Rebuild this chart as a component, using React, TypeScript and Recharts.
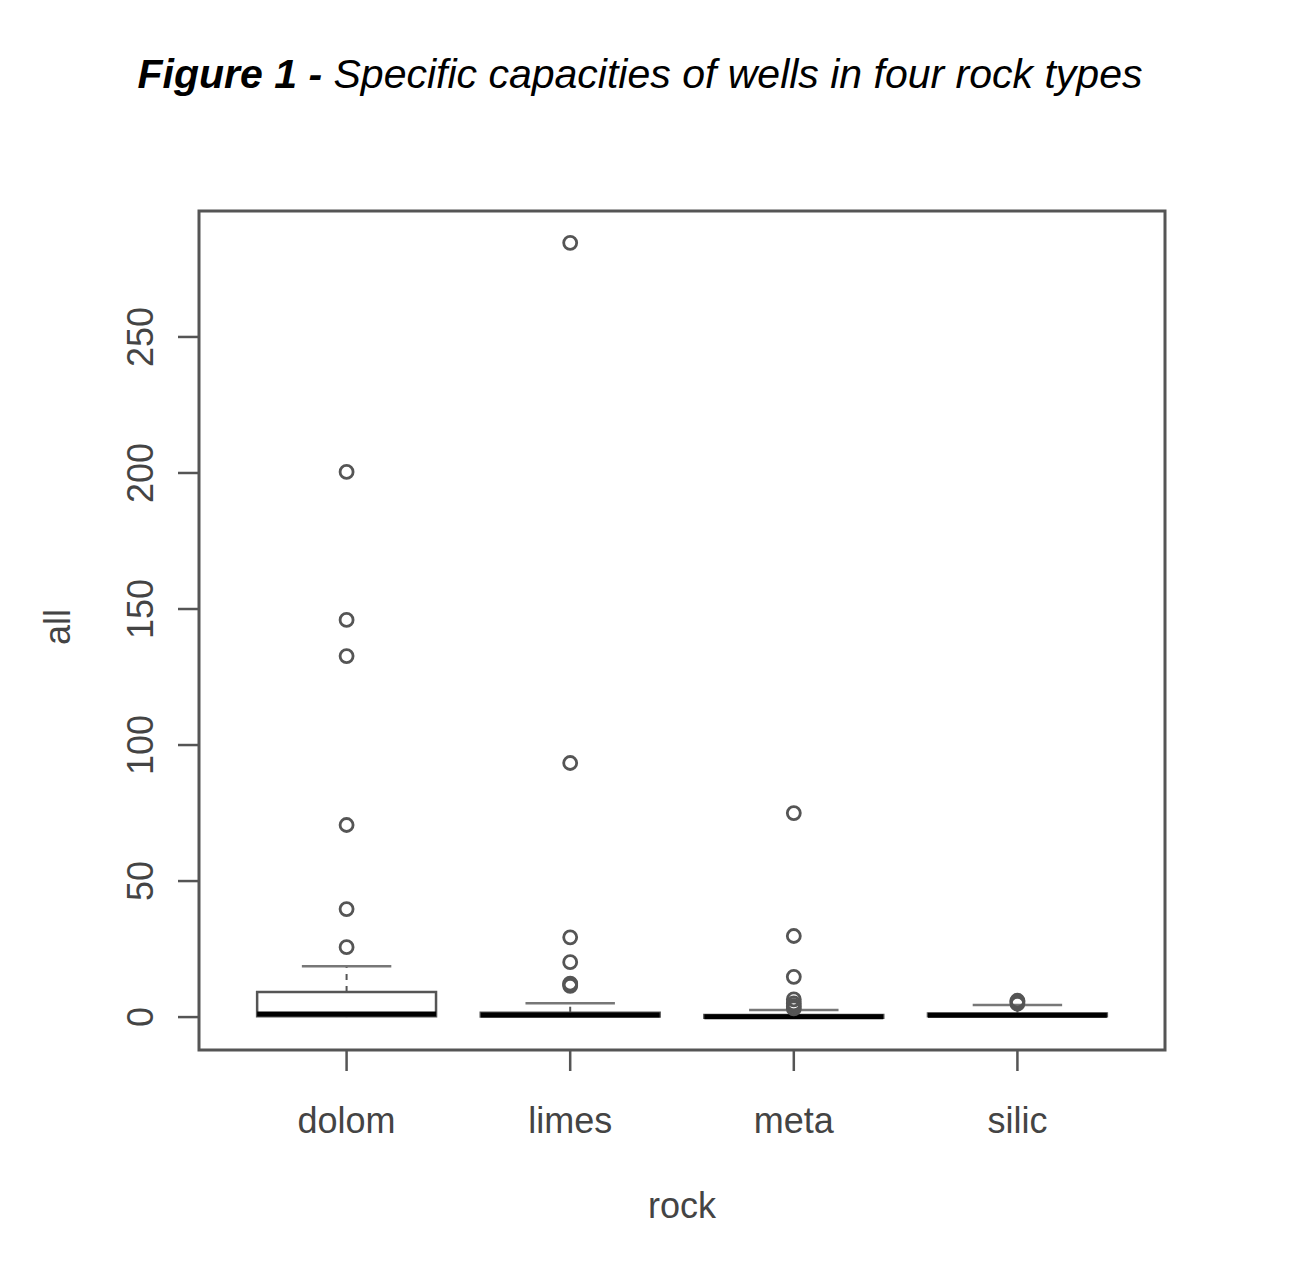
import React from 'react';
import {
  ComposedChart, XAxis, YAxis, Scatter, ReferenceArea, ReferenceLine,
} from 'recharts';

// Box statistics (specific capacity, "all")
const categories = ['dolom', 'limes', 'meta', 'silic'];
const whiskerLow = [0, 0, 0, 0];
const q1 = [0.3, 0.2, -0.2, 0.3];
const median = [1.1, 0.8, 0.1, 0.7];
const q3 = [9.2, 1.6, 0.8, 1.3];
const whiskerHigh = [18.7, 5.1, 2.6, 4.4];
const outliers = [
  [25.7, 39.7, 70.6, 132.7, 146, 200.4],
  [11.5, 12, 12.3, 20.2, 29.3, 93.4, 284.6],
  [3.2, 4, 5, 6.5, 14.8, 29.8, 75],
  [4.9, 5.6, 6.0],
];
const yTicks = [0, 50, 100, 150, 200, 250];

const X_DOMAIN: [number, number] = [0.34, 4.66];
const Y_DOMAIN: [number, number] = [-12.1, 296.3];
const BOX_HALF = 0.4;
const CAP_HALF = 0.2;
const GRAY = '#555';
const FONT = '"Liberation Sans", Arial, sans-serif';

const points = outliers.flatMap((vals, i) => vals.map((v) => ({ x: i + 1, y: v })));

const OpenCircle = (props: any) => {
  const { cx, cy } = props;
  if (cx == null || cy == null) return null;
  return <circle cx={cx} cy={cy} r={6.5} fill="none" stroke={GRAY} strokeWidth={2.8} />;
};

const YTick = (props: any) => {
  const { x, y, payload } = props;
  const bx = x - 23;
  return (
    <text x={bx} y={y} transform={`rotate(-90, ${bx}, ${y})`} textAnchor="middle"
      fill="#444" fontSize={36} fontFamily={FONT}>
      {payload.value}
    </text>
  );
};

const XTick = (props: any) => {
  const { x, y, payload } = props;
  return (
    <text x={x} y={y + 60} textAnchor="middle" fill="#444" fontSize={36} fontFamily={FONT}>
      {categories[payload.value - 1]}
    </text>
  );
};

export default function App() {
  return (
    <div style={{ position: 'absolute', left: 0, top: 0, width: 1312, height: 1284, background: '#fff' }}>
      <div style={{
        position: 'absolute', left: 0, top: 50, width: 1280, textAlign: 'center',
        fontFamily: FONT, fontSize: 41, fontStyle: 'italic', color: '#000', lineHeight: '48px',
      }}>
        <b>Figure 1 -</b> Specific capacities of wells in four rock types
      </div>
      <ComposedChart width={1312} height={1284} margin={{ top: 211, right: 147, bottom: 134, left: 119 }}>
        <XAxis type="number" dataKey="x" domain={X_DOMAIN} ticks={[1, 2, 3, 4]} allowDataOverflow
          axisLine={false} tickSize={21} tickLine={{ stroke: GRAY, strokeWidth: 2.5 }} height={100}
          tick={<XTick />} interval={0} />
        <YAxis type="number" dataKey="y" domain={Y_DOMAIN} ticks={yTicks} allowDataOverflow
          axisLine={false} tickSize={21} tickLine={{ stroke: GRAY, strokeWidth: 2.5 }} width={80}
          tick={<YTick />} interval={0} />
        <ReferenceArea x1={X_DOMAIN[0]} x2={X_DOMAIN[1]} y1={Y_DOMAIN[0]} y2={Y_DOMAIN[1]}
          fill="none" fillOpacity={0} stroke={GRAY} strokeWidth={3} ifOverflow="visible" />
        {categories.map((c, i) => {
          const cx = i + 1;
          return (
            <React.Fragment key={c}>
              <ReferenceLine segment={[{ x: cx, y: q3[i] }, { x: cx, y: whiskerHigh[i] }]}
                stroke={GRAY} strokeWidth={2} strokeDasharray="6 6" ifOverflow="visible" />
              <ReferenceLine segment={[{ x: cx, y: whiskerLow[i] }, { x: cx, y: q1[i] }]}
                stroke={GRAY} strokeWidth={2} strokeDasharray="6 6" ifOverflow="visible" />
              <ReferenceLine segment={[{ x: cx - CAP_HALF, y: whiskerHigh[i] }, { x: cx + CAP_HALF, y: whiskerHigh[i] }]}
                stroke="#777" strokeWidth={2.5} ifOverflow="visible" />
              <ReferenceArea x1={cx - BOX_HALF} x2={cx + BOX_HALF} y1={q1[i]} y2={q3[i]}
                fill="#fff" fillOpacity={1} stroke={GRAY} strokeWidth={2.5} ifOverflow="visible" />
              <ReferenceLine segment={[{ x: cx - BOX_HALF, y: median[i] }, { x: cx + BOX_HALF, y: median[i] }]}
                stroke="#000" strokeWidth={5} ifOverflow="visible" />
            </React.Fragment>
          );
        })}
        <Scatter data={points} dataKey="y" shape={<OpenCircle />} isAnimationActive={false} />
      </ComposedChart>
      <svg width={1312} height={1284} style={{ position: 'absolute', left: 0, top: 0, pointerEvents: 'none' }}>
        <text x={70} y={627} transform="rotate(-90, 70, 627)" textAnchor="middle" fill="#444"
          fontSize={36} fontFamily={FONT}>all</text>
        <text x={682} y={1218} textAnchor="middle" fill="#444" fontSize={36} fontFamily={FONT}>rock</text>
      </svg>
    </div>
  );
}
